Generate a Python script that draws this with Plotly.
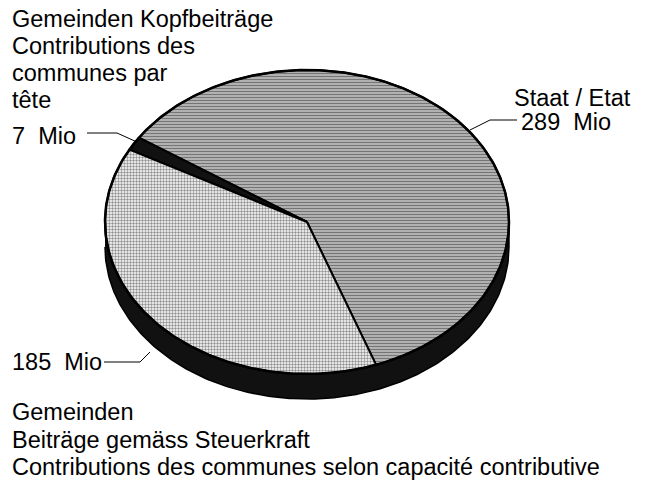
import numpy as np
import plotly.graph_objects as go

# ---- data ----
labels = ["Staat / Etat", "Gemeinden Kopfbeiträge", "Gemeinden Beiträge gemäss Steuerkraft"]
values = [289, 7, 185]
value_unit = "Mio"

# ---- pie geometry (pixel space) ----
CX, CY = 307, 222        # centre of top face
RX, RY = 202, 152        # ellipse semi-axes
DEPTH = 25               # rim thickness
START = -70              # start angle (deg, counter-clockwise)

FONT = "Arial, Liberation Sans, Helvetica, sans-serif"
FS = 23.5

def ell(theta_deg, dy=0.0):
    t = np.radians(theta_deg)
    return CX + RX * np.cos(t), CY - RY * np.sin(t) + dy

fig = go.Figure()

# rim (side of the disc)
th = np.linspace(180, 360, 200)
x1, y1 = ell(th)
x2, y2 = ell(th[::-1], DEPTH)
fig.add_trace(go.Scatter(x=np.concatenate([x1, x2]), y=np.concatenate([y1, y2]),
                         fill="toself", mode="lines", fillcolor="#111111",
                         line=dict(color="black", width=1.5), hoverinfo="skip",
                         showlegend=False))

styles = [
    dict(fillcolor="#d8d8d8", fillpattern=dict(shape="-", size=3, solidity=0.6, fgcolor="#111111", bgcolor="#d8d8d8")),
    dict(fillcolor="#111111"),
    dict(fillcolor="white", fillpattern=dict(shape=".", size=3, solidity=0.5, fgcolor="#222222", bgcolor="white")),
]

total = sum(values)
a0 = START
for lab, v, st in zip(labels, values, styles):
    a1 = a0 + v / total * 360
    th = np.linspace(a0, a1, max(4, int(abs(a1 - a0) * 2)))
    xs, ys = ell(th)
    xs = np.concatenate([[CX], xs, [CX]])
    ys = np.concatenate([[CY], ys, [CY]])
    fig.add_trace(go.Scatter(x=xs, y=ys, fill="toself", mode="lines",
                             line=dict(color="black", width=2), name=lab,
                             hoverinfo="name", showlegend=False, **st))
    a0 = a1

# outer outline of the top face
th = np.linspace(0, 360, 400)
ox, oy = ell(th)
fig.add_trace(go.Scatter(x=ox, y=oy, mode="lines", line=dict(color="black", width=2.5),
                         hoverinfo="skip", showlegend=False))

# leader lines
leaders = [
    [(87, 133), (117, 133), (137, 142)],
    [(470, 130), (490, 120), (517, 120)],
    [(104, 362), (140, 362), (150, 352)],
]
for pts in leaders:
    fig.add_trace(go.Scatter(x=[p[0] for p in pts], y=[p[1] for p in pts], mode="lines",
                             line=dict(color="black", width=1), hoverinfo="skip",
                             showlegend=False))

def txt(x, y, s):
    fig.add_annotation(x=x, y=y, text=s, showarrow=False, xanchor="left", yanchor="middle",
                       font=dict(family=FONT, size=FS, color="black"))

for i, s in enumerate(["Gemeinden Kopfbeiträge", "Contributions des", "communes par", "tête"]):
    txt(10, 19 + 27 * i, s)
txt(10, 136, f"{values[1]}  {value_unit}")
txt(512, 98, "Staat / Etat")
txt(519, 122, f"{values[0]}  {value_unit}")
txt(10, 362, f"{values[2]}  {value_unit}")
for i, s in enumerate(["Gemeinden", "Beiträge gemäss Steuerkraft",
                       "Contributions des communes selon capacité contributive"]):
    txt(10, 412 + 27.5 * i, s)

fig.update_layout(
    width=651, height=486, margin=dict(l=0, r=0, t=0, b=0),
    paper_bgcolor="white", plot_bgcolor="white",
    xaxis=dict(range=[0, 651], visible=False, fixedrange=True),
    yaxis=dict(range=[486, 0], visible=False, fixedrange=True),
)
fig.write_html("out.html", config={"displayModeBar": False},
               post_script="document.body.style.margin='0';document.body.style.overflow='hidden';")
